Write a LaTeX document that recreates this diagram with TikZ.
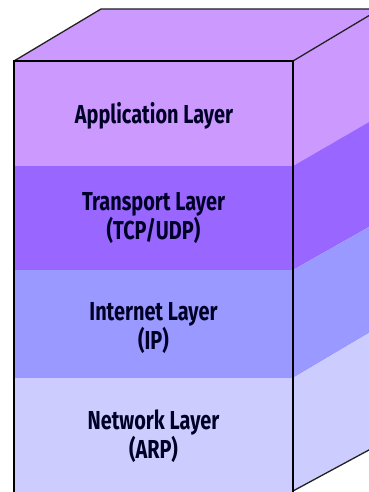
\documentclass[tikz,border=0pt]{standalone}
\usepackage{fontspec}
\setmainfont{Fira Sans}[FakeStretch=0.765]
\usetikzlibrary{calc}

\definecolor{appcol}{HTML}{CC99FF}
\definecolor{transcol}{HTML}{9966FF}
\definecolor{netcol}{HTML}{9999FF}
\definecolor{linkcol}{HTML}{CCCCFF}
\definecolor{edgecol}{HTML}{222222}

\tikzset{
  layertext/.style={align=center, font=\fontsize{26}{24.5}\selectfont\bfseries,
    text=black!85!blue, inner sep=0pt},
  frontedge/.style={draw=black, line width=1.5pt},
  sideedge/.style={draw=edgecol, line width=1.3pt},
}

\begin{document}
\begin{tikzpicture}[x=1pt,y=-1pt]
\useasboundingbox (0,0) rectangle (369,492);
\clip (0,0) rectangle (369,492);

% front face corners and depth corners (depth offset 87,-52)
\coordinate (ftl) at (14,61);
\coordinate (ftr) at (293,61);
\coordinate (fbl) at (14,494);
\coordinate (fbr) at (293,494);
\coordinate (btl) at (101,9);
\coordinate (btr) at (380,9);

% layer boundaries on the front face
\coordinate (f1) at (293,166);
\coordinate (f2) at (293,270);
\coordinate (f3) at (293,378);
\coordinate (fb) at (293,491);
% the same boundaries at the far side of the right face
\coordinate (r1) at (380,115.6);
\coordinate (r2) at (380,220.8);
\coordinate (r3) at (380,326.5);
\coordinate (rb) at (380,444);

% top face
\fill[appcol] (ftl) -- (btl) -- (btr) -- (ftr) -- cycle;

% front face bands
\fill[appcol]   (14,61)  rectangle (293,166);
\fill[transcol] (14,166) rectangle (293,270);
\fill[netcol]   (14,270) rectangle (293,378);
\fill[linkcol]  (14,378) rectangle (293,494);

% right face bands
\fill[appcol]   (ftr) -- (btr) -- (r1) -- (f1) -- cycle;
\fill[transcol] (f1) -- (r1) -- (r2) -- (f2) -- cycle;
\fill[netcol]   (f2) -- (r2) -- (r3) -- (f3) -- cycle;
\fill[linkcol]  (f3) -- (r3) -- (rb) -- (fb) -- cycle;

% edges
\draw[sideedge] (ftl) -- (btl) -- (btr);
\draw[sideedge] (ftr) -- (btr);
\draw[sideedge] (fb) -- (rb);
\draw[frontedge] (ftl) rectangle (fbr);

% layer labels
\node[layertext] (app)   at (154,115.5) {Application Layer};
\node[layertext] (trans) at (153.5,218)   {Transport Layer\\(TCP/UDP)};
\node[layertext] (inet)  at (153.5,328)   {Internet Layer\\(IP)};
\node[layertext] (link)  at (153.5,436)   {Network Layer\\(ARP)};
\end{tikzpicture}
\end{document}
